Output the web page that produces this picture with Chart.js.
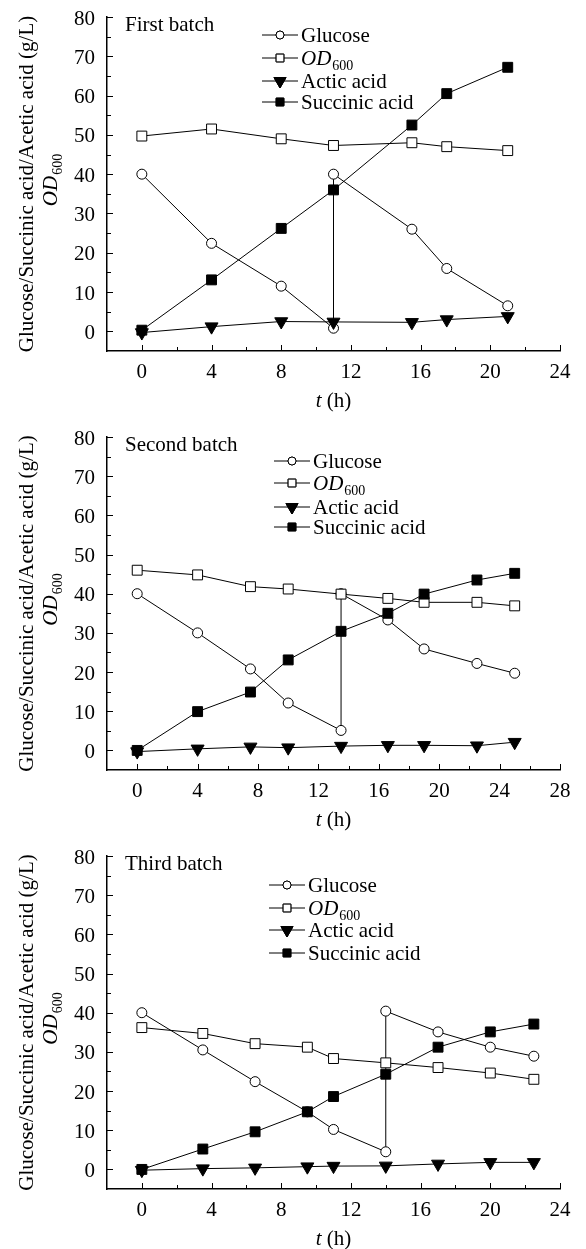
<!DOCTYPE html>
<html>
<head>
<meta charset="utf-8">
<script src="https://cdn.jsdelivr.net/npm/chart.js@4.4.1/dist/chart.umd.min.js"></script>
<style>
  html, body { margin: 0; padding: 0; background: #fff; }
  .panel { position: relative; width: 586px; }
  canvas { display: block; }
</style>
</head>
<body>
<div class="panel" style="height:420px"><canvas id="c1"></canvas></div>
<div class="panel" style="height:420px"><canvas id="c2"></canvas></div>
<div class="panel" style="height:409px"><canvas id="c3"></canvas></div>
<script>
// ---- data ----
// first batch
const time1 = [0, 4, 8, 11, 15.5, 17.5, 21];
const glucoseTime1 = [0, 4, 8, 11, 11, 15.5, 17.5, 21];
const glucose1 = [40, 22.4, 11.5, 0.8, 40, 26, 16, 6.5];
const od1 = [49.7, 51.5, 49, 47.3, 48, 47, 46];
const acetic1 = [-0.3, 1.2, 2.5, 2.4, 2.3, 3, 3.8];
const succinic1 = [0.3, 13.1, 26.2, 36, 52.5, 60.5, 67.2];

// second batch
const time2 = [0, 4, 7.5, 10, 13.5, 16.6, 19, 22.5, 25];
const glucoseTime2 = [0, 4, 7.5, 10, 13.5, 13.5, 16.6, 19, 22.5, 25];
const glucose2 = [40, 30, 20.8, 12.1, 5.1, 40, 33.3, 25.9, 22.2, 19.7];
const od2 = [46, 44.8, 41.8, 41.2, 39.9, 38.8, 37.8, 37.8, 36.9];
const acetic2 = [-0.3, 0.4, 0.9, 0.7, 1.1, 1.3, 1.3, 1.2, 2.1];
const succinic2 = [0, 9.9, 14.9, 23.1, 30.4, 35, 39.9, 43.5, 45.2];

// third batch
const time3 = [0, 3.5, 6.5, 9.5, 11, 14, 17, 20, 22.5];
const glucoseTime3 = [0, 3.5, 6.5, 9.5, 11, 14, 14, 17, 20, 22.5];
const glucose3 = [40, 30.5, 22.4, 14.7, 10.2, 4.5, 40.4, 35.1, 31.2, 28.9];
const od3 = [36.2, 34.7, 32.1, 31.2, 28.3, 27.2, 26, 24.6, 23];
const acetic3 = [-0.2, 0.2, 0.4, 0.7, 0.85, 0.9, 1.4, 1.8, 1.8];
const succinic3 = [0, 5.2, 9.6, 14.7, 18.6, 24.3, 31.2, 35.1, 37.1];

const seriesNames = ['Glucose', 'OD600', 'Actic acid', 'Succinic acid'];
const batchTitles = ['First batch', 'Second batch', 'Third batch'];
const xMaxes = [24, 28, 24];
const yTitle = 'Glucose/Succinic acid/Acetic acid (g/L)';

const FONT = '"Liberation Serif", "Times New Roman", serif';
const FS = 21;
Chart.defaults.font.family = FONT;
Chart.defaults.color = '#000';

// marker looks, same order as seriesNames
const looks = [
  { pointStyle: 'circle', radius: 5, rotation: 0, fill: '#fff', legendRadius: 4, order: 3 },
  { pointStyle: 'rect', radius: 7, rotation: 0, fill: '#fff', legendRadius: 5.5, order: 2 },
  { pointStyle: 'triangle', radius: 7.5, rotation: 180, fill: '#000', legendRadius: 7, order: 1 },
  { pointStyle: 'rect', radius: 7, rotation: 0, fill: '#000', legendRadius: 5.5, order: 0 },
];

function pts(xs, ys) {
  return xs.map((x, i) => ({ x, y: ys[i] }));
}

function text(ctx, str, x, y, align, baseline, font) {
  ctx.font = font || `${FS}px ${FONT}`;
  ctx.textAlign = align;
  ctx.textBaseline = baseline;
  ctx.fillText(str, x, y);
}

// "OD" italic + subscript 600, baseline at y, starting at x
function drawOD(ctx, x, y) {
  text(ctx, 'OD', x, y, 'left', 'alphabetic', `italic ${FS}px ${FONT}`);
  const w = ctx.measureText('OD').width;
  text(ctx, '600', x + w + 1, y + FS * 0.22, 'left', 'alphabetic', `${Math.round(FS * 0.65)}px ${FONT}`);
}
function odWidth(ctx) {
  ctx.font = `italic ${FS}px ${FONT}`;
  const w = ctx.measureText('OD').width;
  ctx.font = `${Math.round(FS * 0.65)}px ${FONT}`;
  return w + 1 + ctx.measureText('600').width;
}

const framePlugin = {
  id: 'frame',
  afterDraw(chart, args, o) {
    const ctx = chart.ctx;
    const xs = chart.scales.x, ys = chart.scales.y;
    const area = chart.chartArea;
    ctx.save();
    ctx.strokeStyle = '#000';
    ctx.fillStyle = '#000';
    ctx.lineWidth = 1;

    // inward ticks, minor every 2 h and 5 units
    for (let v = 0; v <= xs.max + 0.01; v += 2) {
      const px = Math.round(xs.getPixelForValue(v)) + 0.5;
      const len = v % 4 === 0 ? 6 : 4;
      ctx.beginPath(); ctx.moveTo(px, area.bottom); ctx.lineTo(px, area.bottom - len); ctx.stroke();
    }
    for (let v = 0; v <= ys.max + 0.01; v += 5) {
      const py = Math.round(ys.getPixelForValue(v)) + 0.5;
      const len = v % 10 === 0 ? 6 : 4;
      ctx.beginPath(); ctx.moveTo(area.left, py); ctx.lineTo(area.left + len, py); ctx.stroke();
    }

    // tick labels from the scales' own ticks
    xs.ticks.forEach(t => {
      text(ctx, String(t.value), xs.getPixelForValue(t.value), area.bottom + 21, 'center', 'middle');
    });
    ys.ticks.forEach(t => {
      text(ctx, String(t.value), area.left - 12, ys.getPixelForValue(t.value) + 2, 'right', 'middle');
    });

    // batch label
    text(ctx, o.title, area.left + 18, area.top + 8, 'left', 'middle');

    // legend
    chart.data.datasets.forEach((ds, i) => {
      const lk = looks[i];
      const lx = o.legendX, ly = o.legendY[i];
      ctx.strokeStyle = '#000';
      ctx.lineWidth = 1;
      ctx.beginPath(); ctx.moveTo(lx, ly); ctx.lineTo(lx + 36, ly); ctx.stroke();
      ctx.fillStyle = lk.fill;
      Chart.helpers.drawPoint(ctx, { pointStyle: lk.pointStyle, radius: lk.legendRadius, rotation: lk.rotation, borderWidth: 1 }, lx + 18, ly);
      ctx.fill();
      ctx.stroke();
      ctx.fillStyle = '#000';
      if (ds.label === 'OD600') {
        drawOD(ctx, lx + 39, ly + 7);
      } else {
        text(ctx, ds.label, lx + 39, ly + 1, 'left', 'middle');
      }
    });

    // y title, two lines
    const cy = (area.top + area.bottom) / 2;
    ctx.save();
    ctx.translate(0, cy);
    ctx.rotate(-Math.PI / 2);
    text(ctx, yTitle, 0, 33, 'center', 'alphabetic');
    drawOD(ctx, -odWidth(ctx) / 2 + 4, 57);
    ctx.restore();

    // x title
    ctx.font = `italic ${FS}px ${FONT}`;
    const tW = ctx.measureText('t').width;
    ctx.font = `${FS}px ${FONT}`;
    const rW = ctx.measureText(' (h)').width;
    const sx = (area.left + area.right) / 2 - (tW + rW) / 2;
    const ty = area.bottom + 50;
    text(ctx, 't', sx, ty, 'left', 'middle', `italic ${FS}px ${FONT}`);
    text(ctx, ' (h)', sx + tW, ty, 'left', 'middle');

    ctx.restore();
  }
};

function makeChart(id, p) {
  const series = [pts(p.glucoseTime, p.glucose), pts(p.time, p.od), pts(p.time, p.acetic), pts(p.time, p.succinic)];
  const datasets = series.map((data, i) => ({
    label: seriesNames[i],
    data,
    showLine: true,
    borderColor: '#000',
    borderWidth: 1,
    pointStyle: looks[i].pointStyle,
    pointRadius: looks[i].radius,
    pointRotation: looks[i].rotation,
    pointBackgroundColor: looks[i].fill,
    pointBorderColor: '#000',
    pointBorderWidth: 1,
    order: looks[i].order,
    clip: false,
  }));
  return new Chart(document.getElementById(id), {
    type: 'scatter',
    data: { datasets },
    plugins: [framePlugin],
    options: {
      responsive: true,
      maintainAspectRatio: false,
      animation: false,
      events: [],
      layout: { padding: { top: p.top, right: 26, bottom: 0, left: 0 } },
      plugins: {
        legend: { display: false },
        tooltip: { enabled: false },
        frame: { title: p.title, legendX: p.legendX, legendY: p.legendY },
      },
      scales: {
        x: {
          type: 'linear',
          min: -2,
          max: p.xMax,
          grid: { display: false, drawTicks: false },
          border: { display: true, color: '#000', width: 1.5 },
          ticks: { display: false, stepSize: 4, includeBounds: false },
          afterFit(scale) { scale.height = p.xHeight; },
        },
        y: {
          type: 'linear',
          min: -5,
          max: 80,
          grid: { display: false, drawTicks: false },
          border: { display: true, color: '#000', width: 1.5 },
          ticks: { display: false, stepSize: 10, includeBounds: false },
          afterFit(scale) { scale.width = 107; },
        },
      },
    },
  });
}

makeChart('c1', {
  time: time1, glucoseTime: glucoseTime1, glucose: glucose1, od: od1, acetic: acetic1, succinic: succinic1,
  title: batchTitles[0], xMax: xMaxes[0], top: 17, xHeight: 69,
  legendX: 262, legendY: [35, 58, 81, 102],
});
makeChart('c2', {
  time: time2, glucoseTime: glucoseTime2, glucose: glucose2, od: od2, acetic: acetic2, succinic: succinic2,
  title: batchTitles[1], xMax: xMaxes[1], top: 17, xHeight: 70,
  legendX: 274, legendY: [41, 63, 87, 107],
});
makeChart('c3', {
  time: time3, glucoseTime: glucoseTime3, glucose: glucose3, od: od3, acetic: acetic3, succinic: succinic3,
  title: batchTitles[2], xMax: xMaxes[2], top: 16, xHeight: 60,
  legendX: 269, legendY: [45, 68, 90, 113],
});
</script>
</body>
</html>
